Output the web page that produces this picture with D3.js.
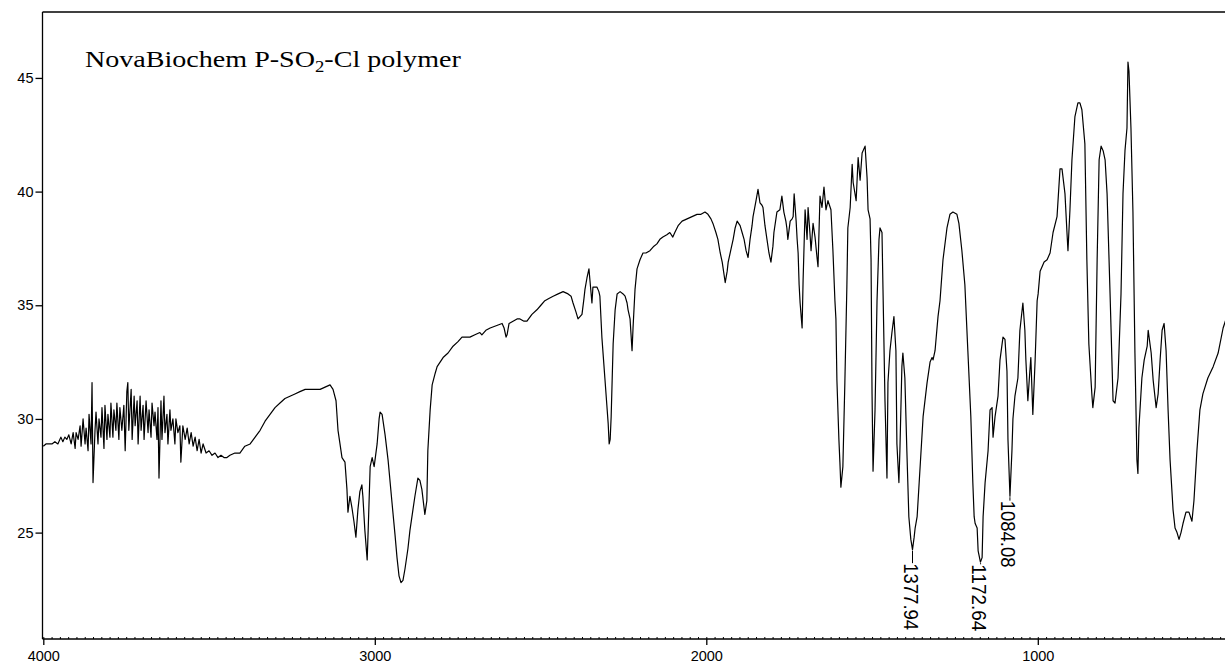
<!DOCTYPE html>
<html><head><meta charset="utf-8">
<script src="https://cdn.jsdelivr.net/npm/d3@7"></script>
<style>body{margin:0;background:#fff}svg{display:block}</style>
</head><body><svg id="c" width="1225" height="664"></svg>
<script>
// IR spectrum: wavenumber (cm-1) and transmittance (%T)
const wavenumber = [4000,3992,3983,3974,3965,3956,3947,3941,3935,3929,3923,3916,3910,3904,3901,3895,3889,3886,3880,3874,3871,3865,3862,3856,3853,3850,3844,3841,3835,3832,3826,3823,3817,3814,3808,3805,3799,3796,3790,3787,3781,3778,3772,3769,3763,3757,3753,3748,3745,3742,3735,3732,3726,3723,3717,3714,3708,3705,3699,3696,3690,3684,3681,3675,3672,3666,3663,3657,3654,3651,3645,3642,3636,3633,3627,3624,3618,3615,3609,3603,3600,3594,3588,3585,3579,3572,3566,3560,3554,3548,3542,3536,3530,3524,3518,3509,3500,3491,3482,3473,3464,3455,3446,3437,3422,3407,3392,3376,3361,3346,3331,3316,3301,3286,3271,3256,3241,3226,3210,3195,3180,3165,3150,3135,3126,3117,3111,3105,3099,3090,3084,3081,3075,3069,3063,3057,3051,3045,3039,3036,3030,3023,3020,3014,3008,3002,2993,2987,2984,2978,2969,2960,2948,2939,2933,2927,2921,2915,2909,2900,2894,2885,2879,2870,2864,2858,2849,2843,2840,2833,2827,2818,2812,2803,2794,2779,2764,2749,2737,2725,2713,2698,2683,2677,2665,2652,2634,2616,2610,2604,2601,2595,2583,2571,2562,2550,2541,2526,2511,2499,2487,2475,2462,2447,2432,2417,2408,2402,2393,2387,2381,2375,2369,2366,2360,2354,2351,2345,2342,2336,2330,2324,2321,2315,2309,2306,2300,2296,2293,2290,2287,2284,2281,2275,2269,2260,2251,2245,2239,2236,2230,2227,2224,2221,2215,2209,2200,2191,2182,2170,2158,2149,2140,2131,2119,2110,2101,2095,2085,2073,2058,2043,2028,2016,2004,1995,1986,1980,1971,1965,1958,1952,1943,1937,1934,1925,1919,1913,1907,1898,1892,1886,1880,1874,1868,1862,1859,1850,1844,1838,1832,1829,1823,1817,1811,1805,1799,1796,1790,1787,1778,1772,1766,1760,1757,1754,1747,1741,1738,1735,1729,1726,1723,1720,1717,1711,1708,1702,1696,1693,1687,1684,1678,1672,1666,1663,1657,1651,1645,1639,1633,1624,1618,1612,1609,1606,1600,1597,1594,1588,1582,1576,1573,1566,1560,1557,1548,1542,1536,1530,1521,1515,1512,1506,1503,1500,1497,1491,1485,1479,1476,1470,1467,1461,1455,1452,1446,1440,1434,1428,1425,1419,1416,1410,1407,1401,1395,1389,1383,1378,1373,1370,1364,1355,1346,1334,1325,1319,1316,1310,1301,1295,1286,1274,1265,1256,1244,1238,1229,1220,1211,1202,1196,1192,1189,1183,1180,1173,1168,1165,1159,1150,1144,1138,1135,1129,1120,1114,1105,1099,1093,1090,1084,1078,1075,1069,1060,1054,1045,1039,1036,1030,1024,1021,1015,1008,1002,999,993,981,972,963,954,942,933,927,918,912,909,903,897,888,879,873,867,858,852,846,837,834,827,821,815,809,803,797,791,782,773,767,758,749,743,737,731,728,725,719,713,707,701,698,695,686,679,670,667,658,652,643,637,631,625,619,613,607,601,592,586,580,574,568,562,553,544,535,529,520,511,502,487,471,456,441,432,420];
const transmittance = [28.8,28.9,28.9,28.9,29.0,28.9,29.2,29.0,29.2,29.1,29.3,28.9,29.4,28.7,29.4,29.1,29.7,28.8,30.0,28.9,29.6,28.6,30.2,28.9,31.6,27.2,29.5,30.3,28.9,30.0,29.2,30.5,28.7,30.6,29.1,30.2,29.2,30.7,29.2,30.4,29.5,30.7,29.1,30.5,29.5,30.6,28.6,31.2,31.6,29.5,31.3,29.1,31.0,29.7,30.8,28.9,31.0,29.5,30.6,29.1,30.8,29.4,30.4,29.2,30.7,29.7,30.3,29.1,30.5,27.4,30.8,29.1,31.0,29.4,30.2,28.9,30.4,29.5,30.0,28.9,30.0,29.4,29.7,28.1,29.7,29.1,29.6,28.9,29.4,28.8,29.2,28.6,29.1,28.5,28.9,28.5,28.6,28.4,28.5,28.3,28.4,28.3,28.3,28.4,28.5,28.5,28.8,28.9,29.2,29.5,29.9,30.2,30.5,30.7,30.9,31.0,31.1,31.2,31.3,31.3,31.3,31.3,31.4,31.5,31.3,30.8,29.5,28.9,28.3,28.1,26.9,25.9,26.6,26.1,25.5,24.8,26.0,26.8,27.1,26.6,25.1,23.8,25.1,27.9,28.3,27.9,28.9,30.0,30.3,30.2,29.3,28.2,26.3,24.9,23.9,23.1,22.8,22.9,23.4,24.3,25.1,26.0,26.6,27.4,27.3,26.9,25.8,26.4,28.6,30.4,31.5,32.0,32.3,32.5,32.7,32.9,33.2,33.4,33.6,33.6,33.6,33.7,33.8,33.7,33.9,34.0,34.1,34.2,34.0,33.6,33.7,34.2,34.3,34.4,34.4,34.3,34.3,34.6,34.8,35.0,35.2,35.3,35.4,35.5,35.6,35.5,35.4,35.1,34.7,34.4,34.5,34.6,35.3,35.7,36.2,36.6,36.1,35.1,35.8,35.8,35.8,35.6,35.4,33.6,32.4,31.8,30.6,29.8,28.9,29.1,30.1,31.7,33.3,34.8,35.5,35.6,35.5,35.4,35.1,34.8,34.4,33.7,33.0,34.0,35.7,36.6,37.0,37.3,37.3,37.4,37.6,37.7,37.9,38.0,38.1,38.2,38.0,38.2,38.5,38.7,38.8,38.9,39.0,39.0,39.1,39.0,38.8,38.6,38.2,37.9,37.3,36.9,36.0,36.5,36.9,37.5,37.9,38.4,38.7,38.5,38.2,37.9,37.4,37.1,37.9,38.5,38.9,39.6,40.1,39.5,39.4,39.3,38.5,37.9,37.3,36.9,37.6,38.2,38.8,39.1,39.2,39.8,39.1,38.7,38.4,37.9,38.7,38.8,38.9,39.9,38.7,37.9,37.3,35.9,35.1,34.0,36.1,39.2,37.9,39.3,38.1,37.4,38.6,38.0,37.1,36.7,39.8,39.3,40.2,39.2,39.6,39.2,37.4,35.2,34.4,31.7,29.1,28.1,27.0,27.9,31.6,35.8,38.4,39.3,41.2,40.4,39.6,41.5,40.5,41.7,42.0,40.6,39.2,38.8,37.0,31.1,27.7,30.4,35.2,37.9,38.4,38.2,35.7,30.8,27.4,31.6,33.0,33.8,34.5,33.0,28.9,27.2,28.6,32.3,32.9,31.8,28.6,25.7,24.7,24.25,24.8,25.2,25.7,27.9,30.1,31.6,32.5,32.7,32.6,33.0,34.5,35.2,37.0,38.4,39.0,39.1,39.0,38.6,37.4,35.9,33.0,30.1,27.2,25.7,25.4,25.2,24.2,23.7,23.9,25.7,27.2,28.6,30.4,30.5,29.2,30.1,31.0,32.6,33.6,33.5,32.1,29.1,26.6,28.6,30.0,31.0,31.8,33.9,35.1,33.9,32.6,30.8,32.1,32.7,30.2,32.6,35.2,35.5,36.5,36.9,37.0,37.3,38.2,38.9,41.0,41.0,39.9,38.2,37.4,39.2,41.4,43.3,43.9,43.9,43.6,42.1,37.0,33.3,31.1,30.5,31.4,37.0,41.4,42.0,41.8,41.4,39.9,35.5,30.8,30.7,31.8,35.5,39.9,41.8,42.8,45.7,45.3,42.8,39.1,32.9,28.2,27.6,29.6,31.8,32.6,33.2,33.9,32.9,31.7,30.5,31.1,32.6,33.9,34.2,33.0,30.4,28.2,26.0,25.2,25.0,24.7,25.0,25.4,25.9,25.9,25.5,26.4,28.6,30.4,31.1,31.8,32.3,32.9,34.0,34.4,34.9];
const xTicks = [4000, 3000, 2000, 1000];
const yTicks = [25, 30, 35, 40, 45];
const peakPositions = [1377.94, 1172.64, 1084.08];
const peakLabels = ["1377.94", "1172.64", "1084.08"];
const peakCurveT = [24.25, 23.7, 26.6];
const peakLabelT = [23.7, 23.65, 26.45];
const titleParts = ["NovaBiochem P-SO", "2", "-Cl polymer"];

(function () {
const data = wavenumber.map((w, i) => ({w, t: transmittance[i]}));
const svg = d3.select("#c");
const pLeft = 42.5, pTop = 12, pBottom = 639, pRight = 1225;
const x = d3.scaleLinear().domain([4000, 400]).range([43.3, 1236.7]);
const y = d3.scaleLinear().domain([20.32, 47.9]).range([pBottom, pTop]);

svg.append("rect").attr("width", 1225).attr("height", 664).attr("fill", "#fff");
svg.append("clipPath").attr("id", "clip").append("rect")
  .attr("x", pLeft).attr("y", pTop).attr("width", pRight - pLeft).attr("height", pBottom - pTop);

svg.append("line").attr("x1", pLeft).attr("x2", pRight).attr("y1", pTop).attr("y2", pTop)
  .attr("stroke", "#000").attr("stroke-width", 1.3);

const fontAxis = "'Liberation Sans', Arial, sans-serif";
// minor ticks on the bottom axis (inside)
const minor = svg.append("g").attr("transform", `translate(0,${pBottom})`)
  .call(d3.axisTop(x).tickValues(d3.range(4000, 400, -25)).tickSize(2).tickSizeOuter(0).tickFormat(""));
minor.select(".domain").remove();
minor.selectAll("line").attr("stroke", "#000").attr("stroke-width", 1);

const yAxis = svg.append("g").attr("transform", `translate(${pLeft},0)`)
  .call(d3.axisLeft(y).tickValues(yTicks).tickSize(7).tickSizeOuter(0).tickPadding(2).tickFormat(d3.format("d")));
const xAxis = svg.append("g").attr("transform", `translate(0,${pBottom})`)
  .call(d3.axisBottom(x).tickValues(xTicks).tickSize(6).tickSizeOuter(0).tickPadding(6).tickFormat(d3.format("d")));
[xAxis, yAxis].forEach(g => {
  g.selectAll("path,line").attr("stroke", "#000").attr("stroke-width", 1.3);
  g.selectAll("text").attr("fill", "#000").style("font-family", fontAxis).style("font-size", "14.5px");
});
yAxis.select(".domain").attr("d", `M0,${pTop}V${pBottom}`);
xAxis.select(".domain").attr("d", `M${pLeft},0H${pRight}`).attr("stroke-width", 1.6);

const line = d3.line().x(d => x(d.w)).y(d => y(d.t));
svg.append("path").datum(data).attr("clip-path", "url(#clip)")
  .attr("d", line).attr("fill", "none").attr("stroke", "#000")
  .attr("stroke-width", 1.2).attr("stroke-linejoin", "round");

peakPositions.forEach((p, i) => {
  const px = x(p);
  svg.append("line").attr("x1", px).attr("x2", px)
    .attr("y1", y(peakCurveT[i]) + 1).attr("y2", y(peakLabelT[i]) + 1)
    .attr("stroke", "#000").attr("stroke-width", 1);
  svg.append("text")
    .attr("transform", `translate(${px - 1.5},${y(peakLabelT[i]) + 1}) rotate(90)`)
    .attr("text-anchor", "start").attr("dominant-baseline", "central")
    .attr("textLength", 67).attr("lengthAdjust", "spacingAndGlyphs")
    .style("font-family", fontAxis).style("font-size", "20px").attr("fill", "#000")
    .text(peakLabels[i]);
});

const t = svg.append("text").attr("transform", "translate(85,67) scale(1.17,1)")
  .style("font-family", "'Liberation Serif', 'Times New Roman', serif")
  .style("font-size", "24px").attr("fill", "#000");
t.append("tspan").text(titleParts[0]);
t.append("tspan").attr("dy", 5).style("font-size", "16px").text(titleParts[1]);
t.append("tspan").attr("dy", -5).text(titleParts[2]);
})();
</script></body></html>
